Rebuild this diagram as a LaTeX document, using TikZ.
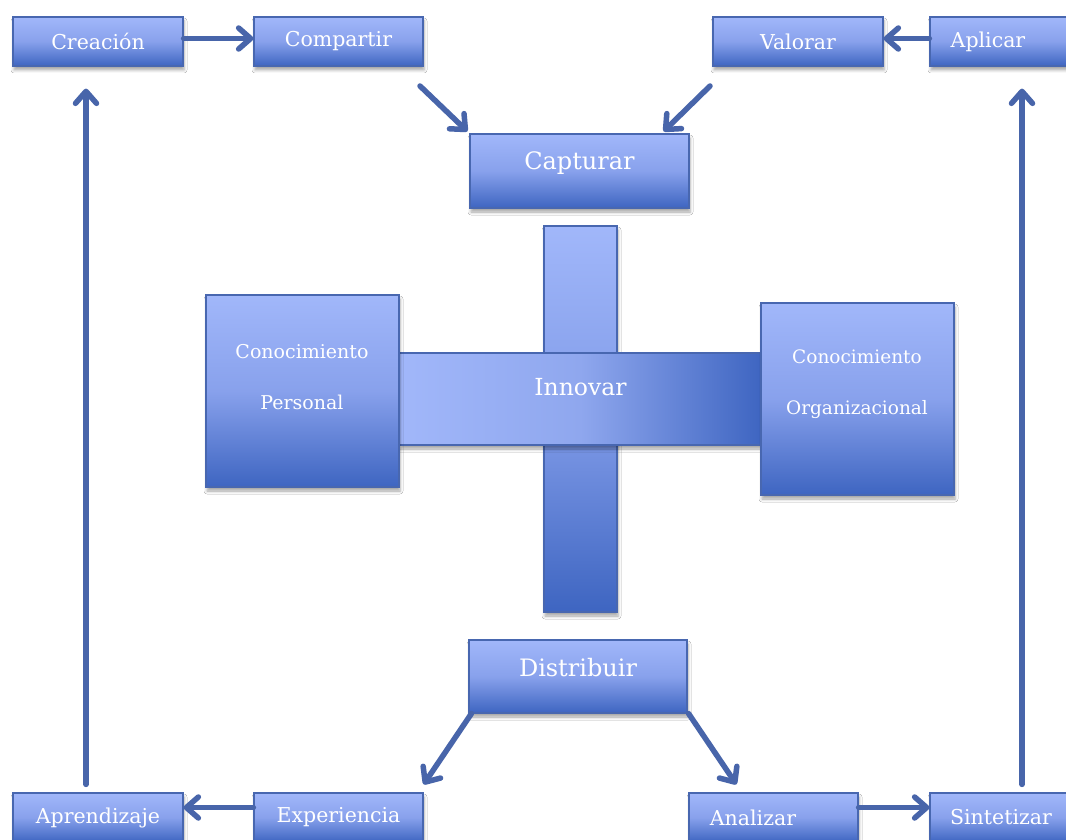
\documentclass[tikz,border=0pt]{standalone}
\usepackage{fontspec}
\setmainfont{DejaVu Serif}
\usetikzlibrary{arrows.meta,shadows.blur,calc}
\definecolor{boxtop}{RGB}{161,183,250}
\definecolor{boxmid}{RGB}{136,161,236}
\definecolor{boxbot}{RGB}{62,101,193}
\definecolor{boxline}{RGB}{72,103,176}
\definecolor{arrowc}{RGB}{72,101,170}
\begin{document}
\begin{tikzpicture}[x=1pt,y=-1pt,
  softshadow/.style={blur shadow={shadow xshift=1pt, shadow yshift=-4pt,
      shadow blur radius=3pt, shadow opacity=35}},
  box/.style={draw=boxline, line width=1.2pt, inner sep=0pt, softshadow,
      top color=boxtop, bottom color=boxbot, middle color=boxmid},
  smallbox/.style={box, minimum width=170pt, minimum height=49pt,
      text=white, font=\fontsize{20.5}{24}\selectfont},
  bigbox/.style={box, minimum width=219pt, minimum height=74pt},
  squarebox/.style={box, minimum width=193pt, minimum height=192pt},
  txt/.style={text=white, inner sep=0pt},
  arr/.style={draw=arrowc, line width=5.5pt, line cap=round,
      -{Straight Barb[length=12pt,width=21pt,round]}}]
\path[use as bounding box] (0,0) rectangle (1066,840);
\clip (0,0) rectangle (1066,840);
\fill[white] (0,0) rectangle (1066,840);

% top row
\node[smallbox] (creacion) at (98,41.5) {Creación};
\node[smallbox, minimum width=169pt] (compartir) at (338.5,41.5) {Compartir};
\node[smallbox] (valorar) at (798,41.5) {Valorar};
\node[smallbox] (aplicar) at (1015,41.5) {};
\node[txt, font=\fontsize{20.5}{24}\selectfont] (aplicartxt) at (988,41.5) {Aplicar};

% capture / distribute
\node[bigbox] (capturar) at (579.5,171) {};
\node[txt, font=\fontsize{24}{28}\selectfont] (capturartxt) at (579.5,163) {Capturar};
\node[bigbox, minimum width=218pt, minimum height=73pt] (distribuir) at (578,676.5) {};
\node[txt, font=\fontsize{24}{28}\selectfont] (distribuirtxt) at (578,668) {Distribuir};

% the cross in the middle
\node[box, minimum width=73pt, minimum height=386pt,
      top color=boxtop, bottom color=boxbot, middle color={rgb,255:red,128;green,155;blue,232}]
      (vbar) at (580.5,419) {};
\node[box, minimum width=363pt, minimum height=92pt,
      left color=boxtop, right color=boxbot, middle color={rgb,255:red,143;green,167;blue,238}]
      (hbar) at (580.5,399) {};
\node[txt, font=\fontsize{23.5}{28}\selectfont] (innovar) at (580.5,387) {Innovar};

% knowledge boxes
\node[squarebox] (personal) at (302.5,391) {};
\node[txt, font=\fontsize{19}{22}\selectfont, align=center] (personaltxt) at (302,377)
      {Conocimiento\\[29pt]Personal};
\node[squarebox] (organizacional) at (857.5,399) {};
\node[txt, font=\fontsize{18.5}{22}\selectfont, align=center] (organizacionaltxt) at (857,384)
      {Conocimiento\\[29pt]Organizacional};

% bottom row
\node[smallbox] (aprendizaje) at (98,817.5) {Aprendizaje};
\node[smallbox, minimum width=169pt] (experiencia) at (338.5,817.5) {Experiencia};
\node[smallbox, minimum width=169pt] (analizar) at (773.5,817.5) {};
\node[txt, font=\fontsize{20.5}{24}\selectfont] (analizartxt) at (753,817.5) {Analizar};
\node[smallbox] (sintetizar) at (1015,817.5) {};
\node[txt, font=\fontsize{20.5}{24}\selectfont] (sintetizartxt) at (1001,817.5) {Sintetizar};

% free ends of the connectors
\coordinate (fromcompartir) at (420,86);
\coordinate (fromvalorar) at (710,86);

% connectors
\draw[arr] ([yshift=3pt]creacion.east) -- ([yshift=3pt]compartir.west);
\draw[arr] ([yshift=3pt]aplicar.west) -- ([yshift=3pt]valorar.east);
\draw[arr] (fromcompartir) -- ([shift={(-2pt,2pt)}]capturar.north west);
\draw[arr] (fromvalorar) -- ([shift={(-26pt,2pt)}]capturar.north east);
\draw[arr] ([xshift=3pt]distribuir.south west) -- ([yshift=8pt]experiencia.north east);
\draw[arr] ([xshift=1pt]distribuir.south east) -- ([shift={(48pt,8pt)}]analizar.north west);
\draw[arr] ([yshift=10pt]experiencia.west) -- ([yshift=10pt]aprendizaje.east);
\draw[arr] ([yshift=10pt]analizar.east) -- ([yshift=10pt]sintetizar.west);
\draw[arr] ([shift={(-12pt,8pt)}]aprendizaje.north) -- ([shift={(-12pt,-22pt)}]creacion.south);
\draw[arr] ([shift={(7pt,8pt)}]sintetizar.north) -- ([shift={(7pt,-22pt)}]aplicar.south);
\end{tikzpicture}
\end{document}
